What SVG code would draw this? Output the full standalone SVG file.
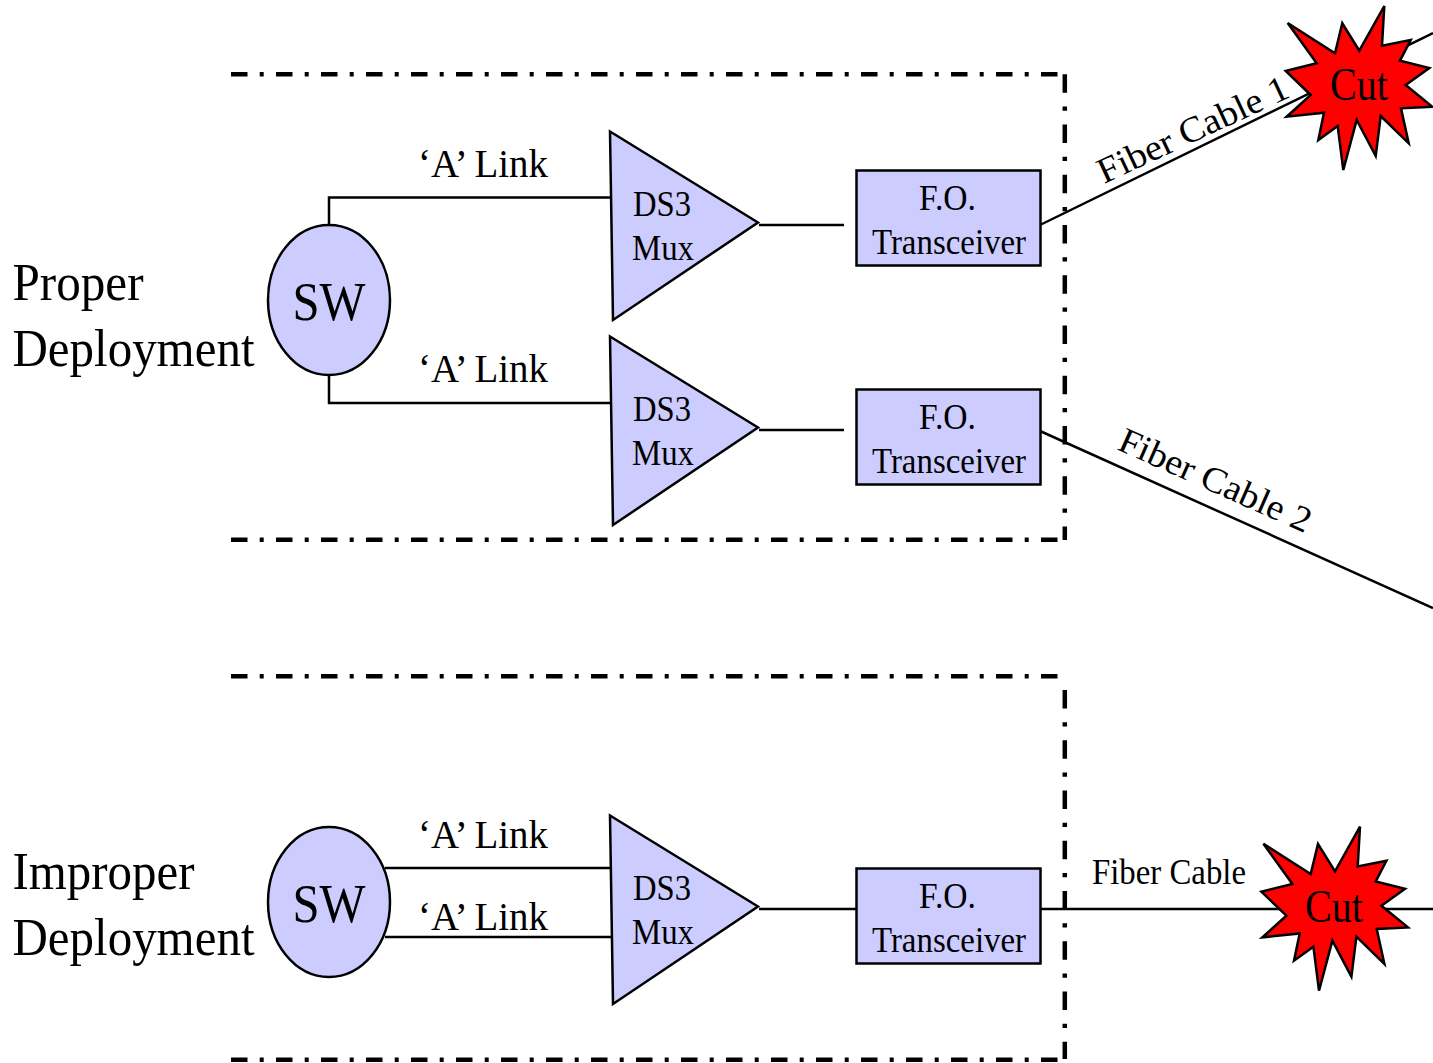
<svg xmlns="http://www.w3.org/2000/svg" xmlns:xlink="http://www.w3.org/1999/xlink" width="1433" height="1063" viewBox="0 0 1433 1063">
<style>
text{font-family:"Liberation Serif","Times New Roman",serif;fill:#000}
.shape{fill:#ccf;stroke:#000;stroke-width:2.5}
.line{fill:none;stroke:#000;stroke-width:2.5}
.bh{fill:none;stroke:#000;stroke-width:4.5;stroke-dasharray:16.5 12.2 4 12.3}
.bv{fill:none;stroke:#000;stroke-width:4.5;stroke-dasharray:18.5 13.7 4.3 13.75}
.star{fill:#f00;stroke:#000;stroke-width:2.5;stroke-linejoin:miter}
.big{font-size:53px}.sw{font-size:54px}.mid{font-size:39px}.sm{font-size:36px}.cut{font-size:46px}
</style>
<defs>
<polygon id="burst" points="1287.7,23 1335,53.3 1342.3,23.3 1359.3,50.7 1384.3,6 1382,45.7 1410.7,40 1400,60.7 1429.3,68 1405.7,85 1432.3,106.7 1401,108.3 1408.7,143.3 1380.7,116 1375.7,156 1356.7,120 1343.3,170 1337.7,126 1318.3,140 1324,112.7 1286.7,116.7 1310.7,95 1285.7,71 1316.7,63.3"/>
</defs>
<g id="connectors">
<path class="line" d="M329 226V197.500H612M329 375V403H612M759 225H844M759 430H844M1040 225L1433 33M1040 431L1433 608"/>
<path class="line" d="M385 868H612M385 937H612M759 909H856M1040 909H1433"/>
</g>
<g id="frame-top"><path class="bh" d="M231 74.300H1057.500"/><path class="bh" d="M231 539.700H1057.500"/><path class="bv" d="M1064.800 74.300V540"/></g>
<g id="frame-bottom"><path class="bh" d="M231 676.300H1057.500"/><path class="bh" d="M231 1059.700H1057.500"/><path class="bv" d="M1064.800 690V1059"/></g>
<g id="label-proper"><text class="big" x="12.500" y="300" textLength="131" lengthAdjust="spacingAndGlyphs">Proper</text><text class="big" x="12.500" y="366" textLength="242" lengthAdjust="spacingAndGlyphs">Deployment</text></g>
<g id="label-improper"><text class="big" x="12.500" y="889" textLength="182" lengthAdjust="spacingAndGlyphs">Improper</text><text class="big" x="12.500" y="955" textLength="242" lengthAdjust="spacingAndGlyphs">Deployment</text></g>
<g id="sw1"><ellipse class="shape" cx="329" cy="300" rx="61" ry="75"/><text class="sw" x="329" y="320" text-anchor="middle" textLength="73" lengthAdjust="spacingAndGlyphs">SW</text></g>
<g id="sw2"><ellipse class="shape" cx="329" cy="902" rx="61" ry="75"/><text class="sw" x="329" y="922" text-anchor="middle" textLength="73" lengthAdjust="spacingAndGlyphs">SW</text></g>
<g id="link-labels">
<text class="mid" x="418" y="177" textLength="130" lengthAdjust="spacingAndGlyphs">‘A’ Link</text>
<text class="mid" x="418" y="382" textLength="130" lengthAdjust="spacingAndGlyphs">‘A’ Link</text>
<text class="mid" x="418" y="848" textLength="130" lengthAdjust="spacingAndGlyphs">‘A’ Link</text>
<text class="mid" x="418" y="930" textLength="130" lengthAdjust="spacingAndGlyphs">‘A’ Link</text>
</g>
<g id="mux1"><polygon class="shape" points="610,131.500 758,222.500 613,320"/><text class="sm" x="633" y="216" textLength="58" lengthAdjust="spacingAndGlyphs">DS3</text><text class="sm" x="632" y="260" textLength="62" lengthAdjust="spacingAndGlyphs">Mux</text></g>
<g id="mux2"><polygon class="shape" points="610,336.500 758,427.500 613,525"/><text class="sm" x="633" y="421" textLength="58" lengthAdjust="spacingAndGlyphs">DS3</text><text class="sm" x="632" y="465" textLength="62" lengthAdjust="spacingAndGlyphs">Mux</text></g>
<g id="mux3"><polygon class="shape" points="610,815.500 758,906.500 613,1004"/><text class="sm" x="633" y="900" textLength="58" lengthAdjust="spacingAndGlyphs">DS3</text><text class="sm" x="632" y="944" textLength="62" lengthAdjust="spacingAndGlyphs">Mux</text></g>
<g id="fo1"><rect class="shape" x="856.500" y="170.500" width="184" height="95"/><text class="sm" x="919" y="210" textLength="57" lengthAdjust="spacingAndGlyphs">F.O.</text><text class="sm" x="872" y="254" textLength="154" lengthAdjust="spacingAndGlyphs">Transceiver</text></g>
<g id="fo2"><rect class="shape" x="856.500" y="389.500" width="184" height="95"/><text class="sm" x="919" y="429" textLength="57" lengthAdjust="spacingAndGlyphs">F.O.</text><text class="sm" x="872" y="473" textLength="154" lengthAdjust="spacingAndGlyphs">Transceiver</text></g>
<g id="fo3"><rect class="shape" x="856.500" y="868.500" width="184" height="95"/><text class="sm" x="919" y="908" textLength="57" lengthAdjust="spacingAndGlyphs">F.O.</text><text class="sm" x="872" y="952" textLength="154" lengthAdjust="spacingAndGlyphs">Transceiver</text></g>
<g id="cable-labels">
<text class="sm" transform="translate(1104 184) rotate(-25)" textLength="207" lengthAdjust="spacingAndGlyphs">Fiber Cable 1</text>
<text class="sm" transform="translate(1116 449) rotate(24)" textLength="207" lengthAdjust="spacingAndGlyphs">Fiber Cable 2</text>
<text class="sm" x="1092" y="884" textLength="154" lengthAdjust="spacingAndGlyphs">Fiber Cable</text>
</g>
<g id="cut1"><use href="#burst" class="star"/><text class="cut" x="1330" y="100" textLength="58" lengthAdjust="spacingAndGlyphs">Cut</text></g>
<g id="cut2"><use href="#burst" class="star" transform="translate(-24.300 820.700)"/><text class="cut" x="1305" y="922" textLength="58" lengthAdjust="spacingAndGlyphs">Cut</text></g>
</svg>
